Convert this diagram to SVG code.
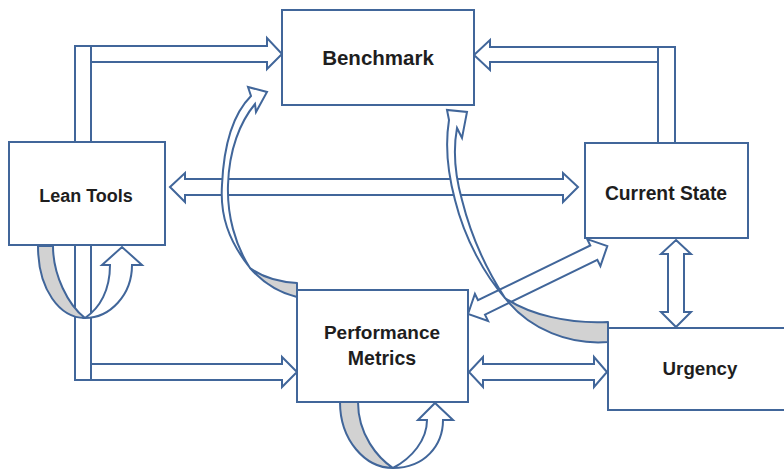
<svg xmlns="http://www.w3.org/2000/svg" width="784" height="470" viewBox="0 0 784 470">
<defs>
<style>
.box{fill:#fff;stroke:#41669a;stroke-width:2}
.arr{fill:#fff;stroke:#41669a;stroke-width:2;stroke-linejoin:miter}
.sh{fill:#d2d2d2;stroke:#41669a;stroke-width:2;stroke-linejoin:round}
.lbl{font-family:"Liberation Sans",Arial,sans-serif;font-weight:bold;fill:#1e1e1e;text-anchor:middle}
</style>
</defs>
<rect width="784" height="470" fill="#fff"/>
<g id="connectors">
  <!-- Lean Tools -> Benchmark -->
  <rect class="arr" x="75" y="46" width="16" height="96"/>
  <polygon class="arr" points="91,46 267,46 267,38 282,54 267,69 267,62 91,62"/>
  <!-- Lean Tools -> Performance Metrics -->
  <rect class="arr" x="75" y="245" width="16" height="135"/>
  <polygon class="arr" points="91,364 282,364 282,357 297,372 282,387 282,380 91,380"/>
  <!-- Current State -> Benchmark -->
  <rect class="arr" x="658" y="47" width="17" height="96"/>
  <polygon class="arr" points="658,47 490,47 490,40 474,55 490,70 490,62 658,62"/>
  <!-- Lean Tools <-> Current State -->
  <polygon class="arr" points="170,187 185,173 185,179 563,179 563,173 578,187 563,202 563,195 185,195 185,202"/>
  <!-- Current State <-> Urgency -->
  <polygon class="arr" points="676,240 691,254 684,254 684,312 691,312 676,327 661,312 668,312 668,254 661,254"/>
  <!-- Performance Metrics <-> Urgency -->
  <polygon class="arr" points="469,372 483,357 483,364 594,364 594,357 607,372 594,387 594,380 483,380 483,387"/>
  <!-- Performance Metrics <-> Current State -->
  <polygon class="arr" transform="translate(468,314) rotate(-26)" points="0,0 15,-15 15,-8 140,-8 140,-15 155,0 140,15 140,8 15,8 15,15"/>
  <!-- Lean Tools self loop -->
  <path class="sh" d="M38,246 C38,290 60,318 85,318 C68,305 53,275 53,246 Z"/>
  <path class="arr" d="M85,318 C110,318 132,295 132,265 L142,265 L122,247 L102,265 L110,265 C110,290 100,308 85,318 Z"/>
  <!-- Performance Metrics self loop -->
  <path class="sh" d="M340,402 C340,440 365,468 393,468 C378,458 358,435 358,402 Z"/>
  <path class="arr" d="M393,468 C425,468 443,445 443,420 L453,420 L435,403 L418,420 L427,420 C427,440 412,458 393,468 Z"/>
  <!-- Performance Metrics -> Benchmark (curved) -->
  <path class="arr" d="M250,268 C228,240 220,215 222,185 C224,140 235,112 251,96 L248,87 L267,92 L256,112 L255,104 C240,122 229,150 228,185 C227,215 235,245 250,268 Z"/>
  <path class="sh" d="M250,268 C265,285 280,293 297,297 L297,283 C280,282 262,277 250,268 Z"/>
  <!-- Urgency -> Benchmark (curved) -->
  <path class="arr" d="M505,298 C485,275 465,240 455,200 C447,170 445,145 449,120 L447,110 L467,112 L462,138 L457,128 C453,150 455,175 462,200 C472,240 488,272 505,298 Z"/>
  <path class="sh" d="M505,298 C530,330 570,345 608,342 L608,322 C570,324 530,315 505,298 Z"/>
</g>
<g id="benchmark">
  <rect class="box" x="282" y="10" width="192" height="95"/>
  <text class="lbl" x="378" y="65" font-size="20.5">Benchmark</text>
</g>
<g id="lean-tools">
  <rect class="box" x="9" y="142" width="156" height="103"/>
  <text class="lbl" x="86" y="202" font-size="18">Lean Tools</text>
</g>
<g id="current-state">
  <rect class="box" x="585" y="143" width="163" height="95"/>
  <text class="lbl" x="666" y="200" font-size="19.3">Current State</text>
</g>
<g id="performance-metrics">
  <rect class="box" x="297" y="290" width="171" height="112"/>
  <text class="lbl" x="382" y="339" font-size="19">Performance</text>
  <text class="lbl" x="382" y="365" font-size="19.5">Metrics</text>
</g>
<g id="urgency">
  <rect class="box" x="608" y="328" width="186" height="82"/>
  <text class="lbl" x="700" y="375" font-size="18.7">Urgency</text>
</g>
</svg>
